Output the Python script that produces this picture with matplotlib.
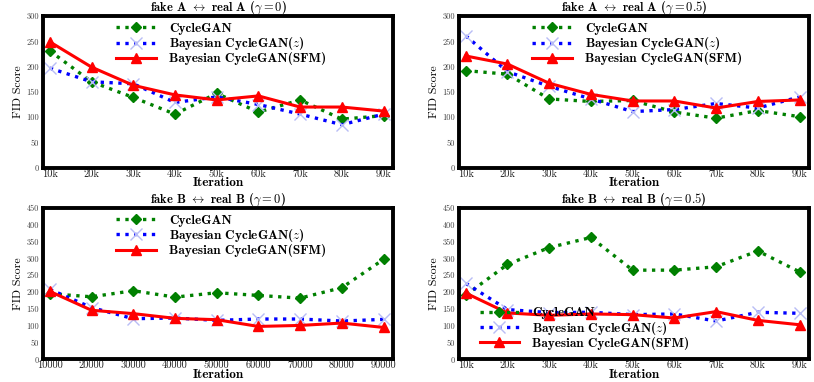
import matplotlib
matplotlib.use("Agg")
import matplotlib.pyplot as plt

plt.rcParams['mathtext.fontset'] = 'cm'
plt.rcParams['axes.formatter.use_mathtext'] = True

iters = [10000, 20000, 30000, 40000, 50000, 60000, 70000, 80000, 90000]
k_labels = ['10k', '20k', '30k', '40k', '50k', '60k', '70k', '80k', '90k']
num_labels = ['10000', '20000', '30000', '40000', '50000', '60000', '70000', '80000', '90000']

# fake A <-> real A (gamma = 0)
a0_cycle = [231, 170, 139, 106, 147, 110, 134, 96, 103]
a0_bz = [197, 170, 166, 129, 140, 125, 106, 85, 106]
a0_sfm = [249, 199, 163, 144, 134, 142, 120, 120, 112]

# fake A <-> real A (gamma = 0.5)
a5_cycle = [192, 185, 136, 131, 133, 110, 98, 113, 101]
a5_bz = [261, 190, 161, 136, 111, 115, 127, 118, 140]
a5_sfm = [221, 205, 167, 145, 132, 132, 118, 131, 134]

# fake B <-> real B (gamma = 0)
b0_cycle = [195, 186, 204, 185, 198, 190, 182, 213, 297]
b0_bz = [208, 154, 121, 123, 116, 120, 120, 114, 119]
b0_sfm = [202, 146, 136, 122, 118, 98, 101, 108, 95]

# fake B <-> real B (gamma = 0.5)
b5_cycle = [191, 282, 332, 362, 265, 265, 275, 322, 260]
b5_bz = [226, 148, 139, 140, 133, 135, 114, 140, 137]
b5_sfm = [197, 138, 131, 135, 133, 123, 142, 116, 103]

series_names = ['CycleGAN', r'Bayesian CycleGAN($z$)', 'Bayesian CycleGAN(SFM)']

panels = [
    (r'fake A $\leftrightarrow$ real A ($\gamma=0$)', (a0_cycle, a0_bz, a0_sfm), 300, 50, k_labels, 'upper'),
    (r'fake A $\leftrightarrow$ real A ($\gamma=0.5$)', (a5_cycle, a5_bz, a5_sfm), 300, 50, k_labels, 'upper'),
    (r'fake B $\leftrightarrow$ real B ($\gamma=0$)', (b0_cycle, b0_bz, b0_sfm), 450, 50, num_labels, 'upper'),
    (r'fake B $\leftrightarrow$ real B ($\gamma=0.5$)', (b5_cycle, b5_bz, b5_sfm), 450, 50, k_labels, 'lower'),
]

fig = plt.figure(figsize=(8.14, 3.82), dpi=100)
rects = [
    [0.053, 0.561, 0.430, 0.397],
    [0.564, 0.561, 0.430, 0.397],
    [0.053, 0.059, 0.430, 0.397],
    [0.564, 0.059, 0.430, 0.397],
]

for rect, (title, data, ymax, ystep, xlabels, legpos) in zip(rects, panels):
    ax = fig.add_axes(rect)
    cyc, bz, sfm = data
    ax.plot(iters, cyc, color='green', linestyle=':', linewidth=2.4,
            marker='D', markersize=5.5, markeredgecolor='green', label=series_names[0])
    ax.plot(iters, bz, color='blue', linestyle=':', linewidth=2.4,
            marker='x', markersize=8, markeredgecolor='#b8bdf5', markeredgewidth=1.0,
            label=series_names[1])
    ax.plot(iters, sfm, color='red', linestyle='-', linewidth=2.2,
            marker='^', markersize=6.5, markeredgecolor='red', label=series_names[2])
    ax.set_xlim(8400, 92300)
    ax.set_ylim(0, ymax)
    ax.set_xticks(iters)
    ax.set_xticklabels(xlabels, fontfamily='cmr10', fontsize=7.5, color='#222222')
    yt = list(range(0, ymax + 1, ystep))
    ax.set_yticks(yt)
    ax.set_yticklabels([str(v) for v in yt], fontfamily='cmr10', fontsize=6, color='#444444')
    ax.tick_params(axis='y', which='both', length=0, pad=3)
    ax.tick_params(axis='x', which='both', length=0, pad=1)
    for sp in ax.spines.values():
        sp.set_linewidth(2.8)
    ax.set_title(title, fontfamily='cmb10', fontsize=9, pad=0)
    ax.set_xlabel('Iteration', fontfamily='cmb10', fontsize=9.5, labelpad=-1)
    ax.set_ylabel('FID Score', fontfamily='cmr10', fontsize=8.5, labelpad=2)
    common = dict(frameon=False, prop={'family': 'cmb10', 'size': 9.5}, numpoints=1,
                  handlelength=3.0, labelspacing=0.02, handletextpad=1.0,
                  borderaxespad=0.2, borderpad=0.3)
    if legpos == 'upper':
        ax.legend(loc='upper left', bbox_to_anchor=(0.19, 1.0), **common)
    else:
        ax.legend(loc='lower left', bbox_to_anchor=(0.04, 0.02), **common)

fig.savefig('out.png', dpi=100)
